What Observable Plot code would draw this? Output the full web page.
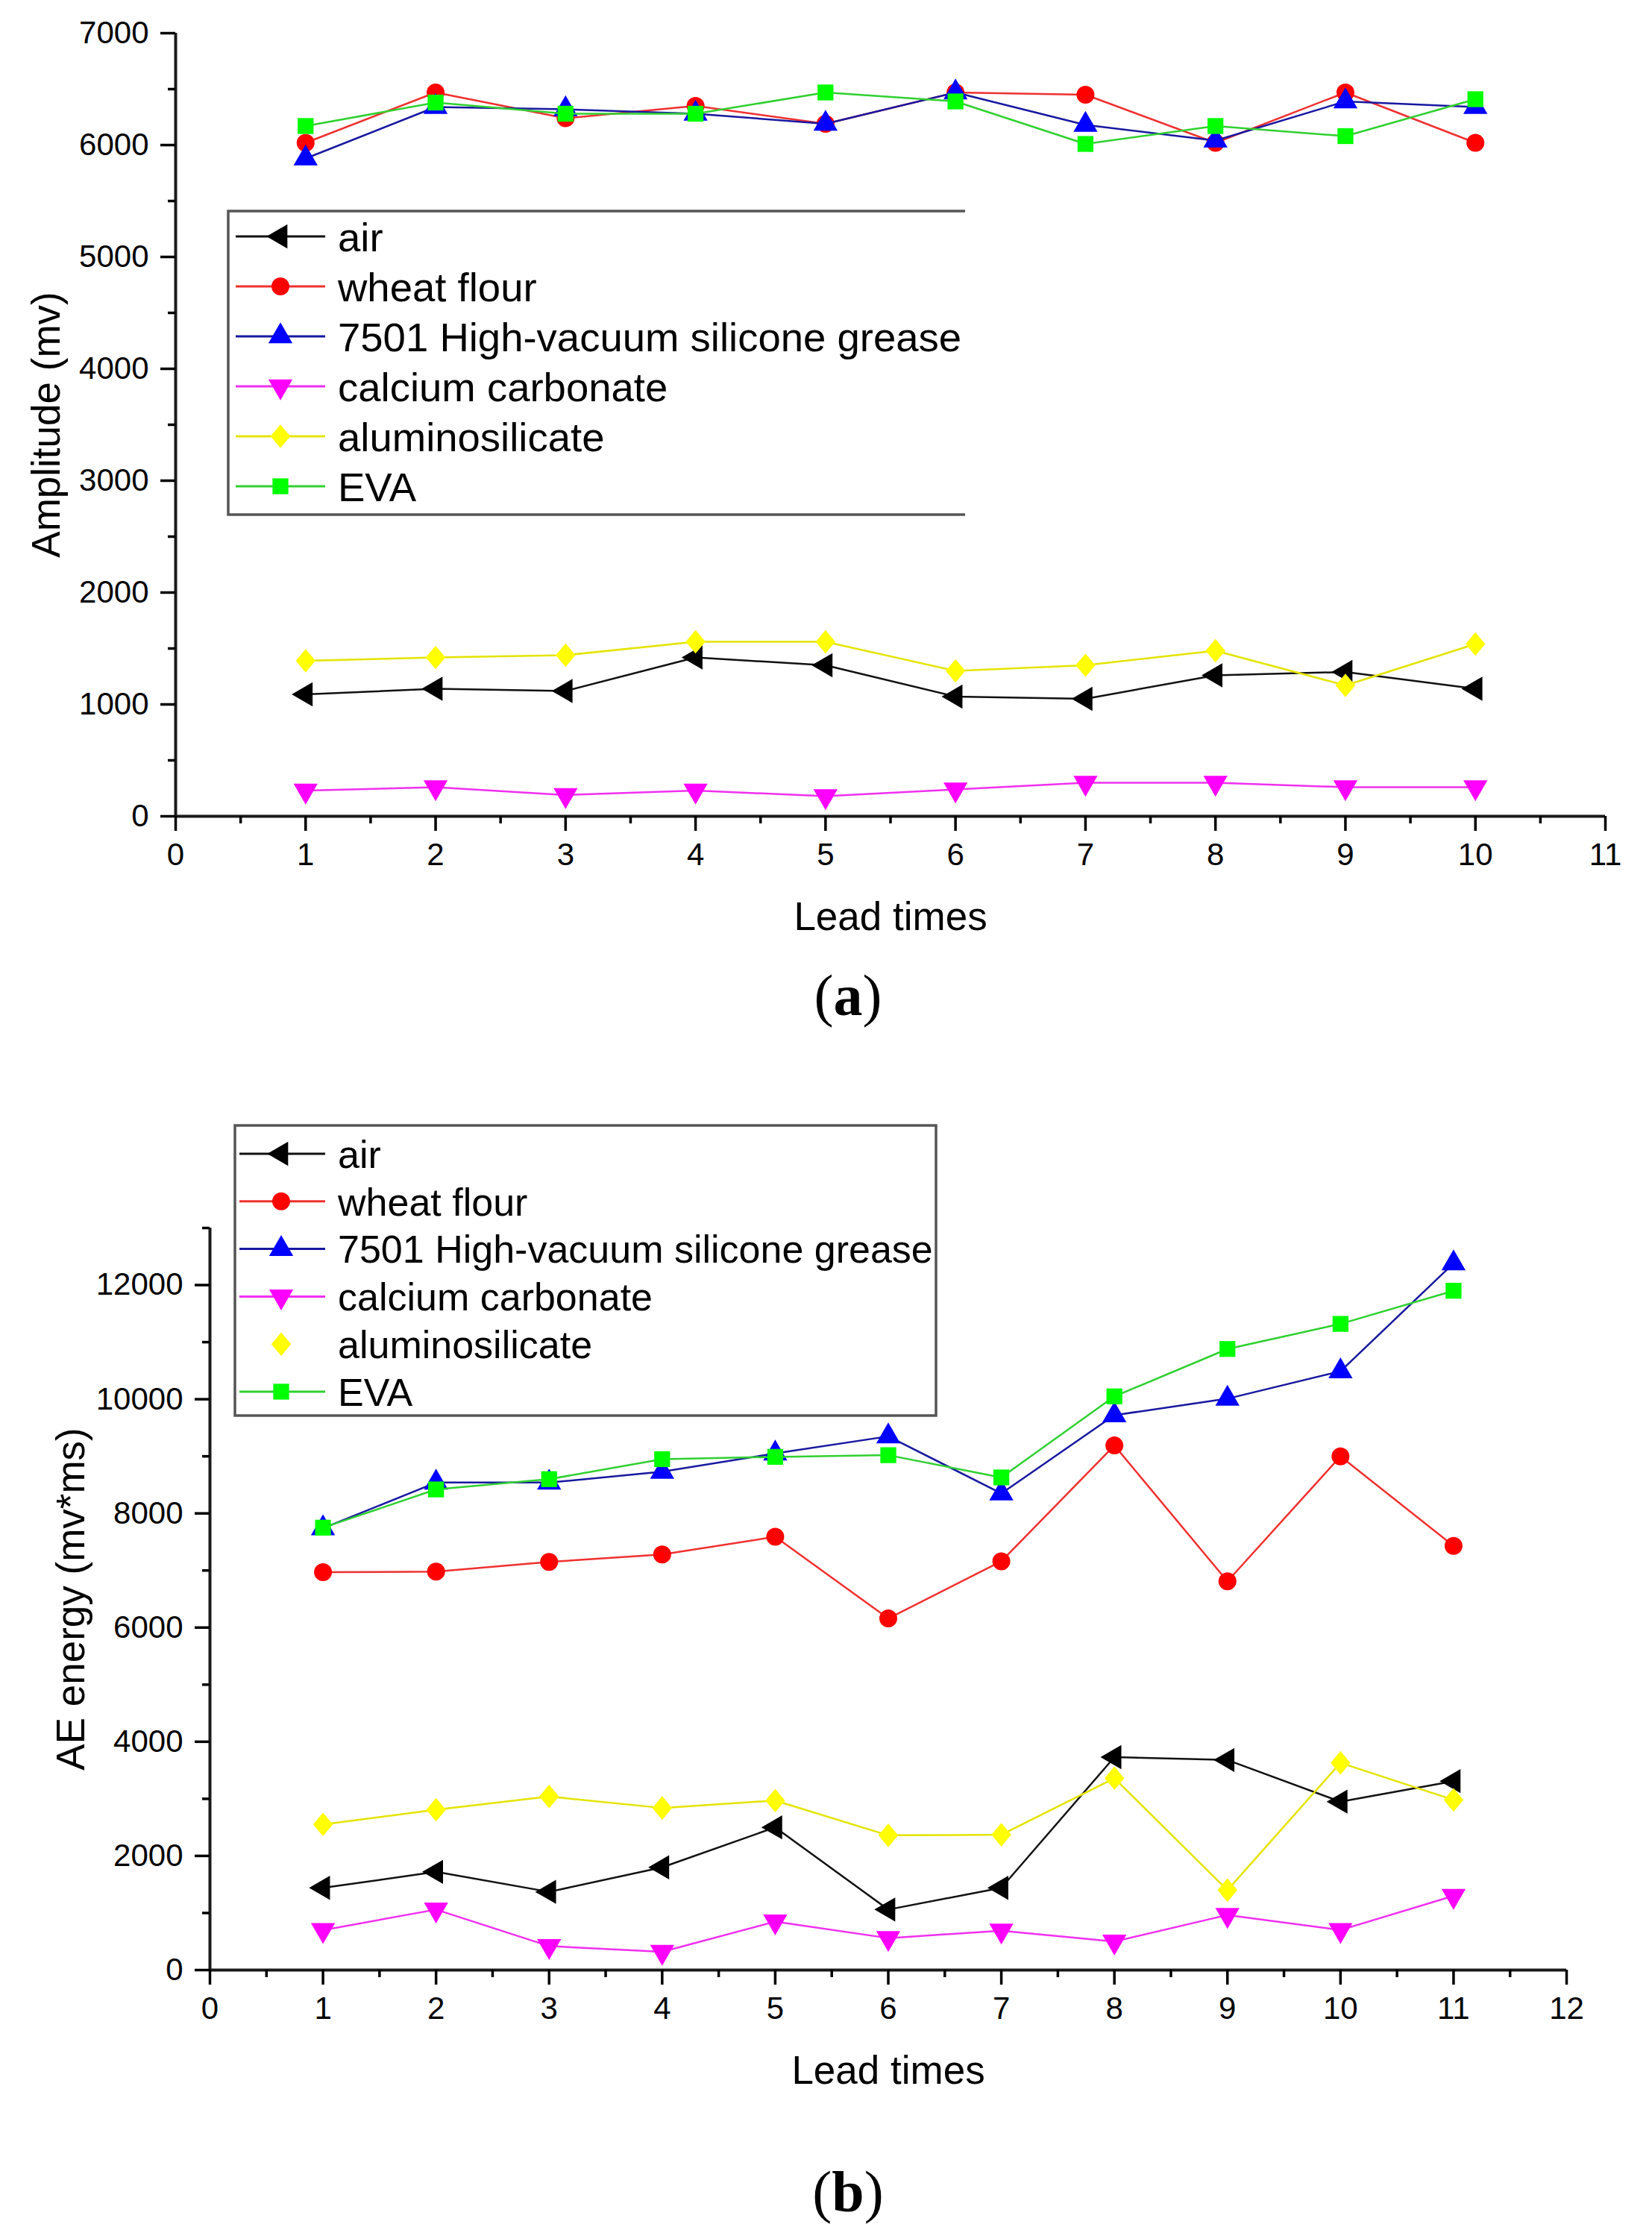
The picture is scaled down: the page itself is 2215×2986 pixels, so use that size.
<!DOCTYPE html>
<html>
<head>
<meta charset="utf-8">
<script src="https://cdn.jsdelivr.net/npm/d3@7"></script>
<script src="https://cdn.jsdelivr.net/npm/@observablehq/plot@0.6"></script>
<style>
  body { margin: 0; background: #fff; }
  #page { position: relative; width: 2215px; height: 2986px; font-family: "Liberation Sans", Arial, sans-serif; }
  .panel { position: absolute; left: 0; }
  .cap { position: absolute; width: 300px; text-align: center; font-family: "Liberation Serif", "Times New Roman", serif; font-size: 78px; line-height: 1; }
  #legends { position: absolute; left: 0; top: 0; pointer-events: none; }
</style>
</head>
<body>
<div id="page"></div>
<script>
const names = ["air", "wheat flour", "7501 High-vacuum silicone grease", "calcium carbonate", "aluminosilicate", "EVA"];
const markColors = ["#000000", "#ff0000", "#0000ff", "#ff00ff", "#ffff00", "#00ff00"];
const lineColors = ["#111111", "#f03030", "#1818a0", "#f030f0", "#e4e400", "#30d030"];

// panel (a): amplitude
const leadA = [1, 2, 3, 4, 5, 6, 7, 8, 9, 10];
const ampAir = [1090, 1140, 1120, 1420, 1350, 1070, 1050, 1260, 1290, 1140];
const ampWheat = [6020, 6470, 6240, 6350, 6190, 6470, 6450, 6020, 6470, 6020];
const ampGrease = [5880, 6340, 6320, 6280, 6190, 6470, 6180, 6040, 6390, 6340];
const ampCalcium = [230, 260, 190, 230, 180, 240, 300, 300, 260, 260];
const ampAlumino = [1390, 1420, 1440, 1560, 1560, 1300, 1350, 1480, 1170, 1540];
const ampEva = [6170, 6380, 6280, 6280, 6470, 6390, 6010, 6170, 6080, 6410];

// panel (b): AE energy
const leadB = [1, 2, 3, 4, 5, 6, 7, 8, 9, 10, 11];
const enAir = [1440, 1720, 1370, 1800, 2500, 1060, 1440, 3730, 3680, 2950, 3310];
const enWheat = [6970, 6980, 7150, 7280, 7590, 6160, 7160, 9190, 6810, 9000, 7430];
const enGrease = [7740, 8540, 8540, 8730, 9050, 9350, 8350, 9720, 10010, 10490, 12380];
const enCalcium = [700, 1060, 420, 320, 850, 560, 690, 500, 965, 700, 1300];
const enAlumino = [2550, 2810, 3040, 2840, 2970, 2360, 2370, 3360, 1400, 3630, 2980];
const enEva = [7750, 8420, 8600, 8950, 8990, 9020, 8630, 10050, 10880, 11320, 11900];

const ticksXA = [0, 1, 2, 3, 4, 5, 6, 7, 8, 9, 10, 11];
const ticksXB = [0, 1, 2, 3, 4, 5, 6, 7, 8, 9, 10, 11, 12];
const ticksYA = [0, 1000, 2000, 3000, 4000, 5000, 6000, 7000];
const ticksYB = [0, 2000, 4000, 6000, 8000, 10000, 12000];

// custom markers: triangles left / down, a wider diamond
const sqrt3 = Math.sqrt(3);
const triLeft = {
  draw(ctx, size) {
    const y = -Math.sqrt(size / (sqrt3 * 3));
    ctx.moveTo(y * 2, 0);
    ctx.lineTo(-y, -sqrt3 * y);
    ctx.lineTo(-y, sqrt3 * y);
    ctx.closePath();
  }
};
const triDown = {
  draw(ctx, size) {
    const y = -Math.sqrt(size / (sqrt3 * 3));
    ctx.moveTo(0, -y * 2);
    ctx.lineTo(-sqrt3 * y, y);
    ctx.lineTo(sqrt3 * y, y);
    ctx.closePath();
  }
};
const diamond = {
  draw(ctx, size) {
    const s = Math.sqrt(size / 2);
    ctx.moveTo(0, -s * 1.05);
    ctx.lineTo(s * 0.88, 0);
    ctx.lineTo(0, s * 1.05);
    ctx.lineTo(-s * 0.88, 0);
    ctx.closePath();
  }
};
const symbols = [triLeft, d3.symbolCircle, d3.symbolTriangle, triDown, diamond, d3.symbolSquare];
const R = 12;

const font = '"Liberation Sans", Arial, sans-serif';
const page = document.getElementById("page");

function half(ticks) {
  return ticks.slice(1).map((t, i) => (t + ticks[i]) / 2);
}

function panel({lead, series, xTicks, yTicks, yTop, yMinor, yLabel, yLabelOffset, top, height, margin}) {
  const marks = [];
  series.forEach((vals, i) => {
    const rows = lead.map((x, j) => ({x, y: vals[j]}));
    marks.push(Plot.line(rows, {x: "x", y: "y", stroke: lineColors[i], strokeWidth: 2.5}));
    marks.push(Plot.dot(rows, {x: "x", y: "y", r: R, fill: markColors[i], stroke: "none", symbol: () => names[i]}));
  });
  const chart = Plot.plot({
    width: 2215,
    height,
    marginTop: margin.top,
    marginRight: margin.right,
    marginBottom: margin.bottom,
    marginLeft: margin.left,
    style: {fontFamily: font, fontSize: "41px", color: "#000", background: "transparent", overflow: "visible"},
    x: {domain: [xTicks[0], xTicks[xTicks.length - 1]]},
    y: {domain: [0, yTop]},
    symbol: {domain: names, range: symbols},
    marks: [
      ...marks,
      Plot.ruleX([0], {stroke: "#1a1a1a", strokeWidth: 4}),
      Plot.ruleY([0], {stroke: "#1a1a1a", strokeWidth: 4}),
      Plot.axisX({ticks: xTicks, tickSize: 20, tickPadding: 16, strokeWidth: 3.5, fontSize: 42, tickFormat: d => String(d), label: null}),
      Plot.axisX({ticks: half(xTicks), tickSize: 10, strokeWidth: 3.5, tickFormat: () => "", label: null}),
      Plot.axisX({ticks: [], tickSize: 0, fontSize: 53, label: "Lead times", labelAnchor: "center", labelArrow: "none", labelOffset: 152}),
      Plot.axisY({ticks: yTicks, tickSize: 20, tickPadding: 16, strokeWidth: 3.5, fontSize: 42, tickFormat: d => String(d), label: null}),
      Plot.axisY({ticks: yMinor, tickSize: 10, strokeWidth: 3.5, tickFormat: () => "", label: null}),
      Plot.axisY({ticks: [], tickSize: 0, fontSize: 53, label: yLabel, labelAnchor: "center", labelArrow: "none", labelOffset: yLabelOffset})
    ]
  });
  chart.classList.add("panel");
  chart.style.top = top + "px";
  page.append(chart);
}

panel({
  lead: leadA,
  series: [ampAir, ampWheat, ampGrease, ampCalcium, ampAlumino, ampEva],
  xTicks: ticksXA,
  yTicks: ticksYA,
  yTop: 7000,
  yMinor: half(ticksYA),
  yLabel: "Amplitude (mv)",
  yLabelOffset: 193,
  top: 0,
  height: 1290,
  margin: {top: 44, right: 63, bottom: 196, left: 235}
});

panel({
  lead: leadB,
  series: [enAir, enWheat, enGrease, enCalcium, enAlumino, enEva],
  xTicks: ticksXB,
  yTicks: ticksYB,
  yTop: 13000,
  yMinor: half(ticksYB.concat([14000])),
  yLabel: "AE energy (mv*ms)",
  yLabelOffset: 206,
  top: 1450,
  height: 1350,
  margin: {top: 196, right: 115, bottom: 159, left: 281}
});

// legends
const svg = d3.select(page).append("svg")
  .attr("id", "legends").attr("width", 2215).attr("height", 2986);

function legend({x0, x1, y0, y1, rowY, gap, closed, noLine, lineX, markX, textX, fontSize}) {
  const g = svg.append("g");
  g.append("rect").attr("x", x0).attr("y", y0).attr("width", x1 - x0).attr("height", y1 - y0).attr("fill", "#fff");
  const border = closed
    ? `M${x0},${y0}H${x1}V${y1}H${x0}Z`
    : `M${x1},${y0}H${x0}V${y1}H${x1}`;
  g.append("path").attr("d", border).attr("fill", "none").attr("stroke", "#555").attr("stroke-width", 3.5);
  names.forEach((name, i) => {
    const y = rowY + i * gap;
    if (!noLine.includes(i)) {
      g.append("line").attr("x1", x0 + lineX[0]).attr("x2", x0 + lineX[1]).attr("y1", y).attr("y2", y)
        .attr("stroke", lineColors[i]).attr("stroke-width", 3);
    }
    g.append("path").attr("transform", `translate(${x0 + markX},${y})`)
      .attr("d", d3.symbol(symbols[i], Math.PI * R * R)()).attr("fill", markColors[i]);
    g.append("text").attr("x", x0 + textX).attr("y", y).attr("dy", "0.36em")
      .attr("font-family", font).attr("font-size", fontSize).attr("fill", "#000").text(name);
  });
}

legend({x0: 306, x1: 1294, y0: 283, y1: 690, rowY: 317, gap: 67, closed: false, noLine: [],
  lineX: [10, 130], markX: 70, textX: 147, fontSize: 54.5});
legend({x0: 315, x1: 1255, y0: 1509, y1: 1898, rowY: 1547, gap: 63.8, closed: true, noLine: [4],
  lineX: [6, 121], markX: 62, textX: 138, fontSize: 52});

// panel captions
for (const [letter, top] of [["a", 1296], ["b", 2900]]) {
  const cap = document.createElement("div");
  cap.className = "cap";
  cap.style.left = (1137 - 150) + "px";
  cap.style.top = top + "px";
  cap.innerHTML = `(<b>${letter}</b>)`;
  page.append(cap);
}
</script>
</body>
</html>
